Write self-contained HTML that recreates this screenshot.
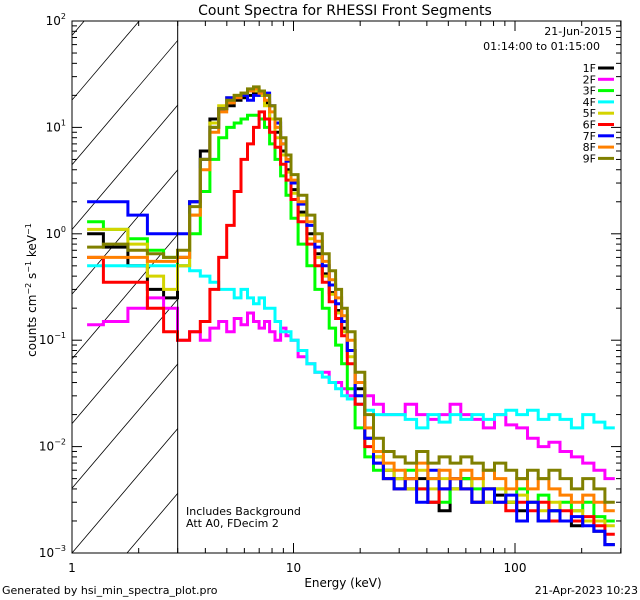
<!DOCTYPE html>
<html><head><meta charset="utf-8"><style>
body{margin:0;background:#fff;}
svg{display:block;font-family:"DejaVu Sans","Liberation Sans",sans-serif;}
</style></head><body>
<svg id="chart" width="640" height="600" xmlns="http://www.w3.org/2000/svg">
<rect width="640" height="600" fill="#fff"/>
<text x="345" y="15" font-size="14" text-anchor="middle">Count Spectra for RHESSI Front Segments</text>
<text transform="translate(36,290) rotate(-90)" font-size="12" text-anchor="middle">counts cm<tspan font-size="8" dy="-5">−2</tspan><tspan dy="5"> s</tspan><tspan font-size="8" dy="-5">−1</tspan><tspan dy="5"> keV</tspan><tspan font-size="8" dy="-5">−1</tspan></text>
<text x="343" y="587" font-size="12" text-anchor="middle">Energy (keV)</text>
<text x="2" y="594" font-size="11">Generated by hsi_min_spectra_plot.pro</text>
<text x="638" y="594" font-size="11" text-anchor="end">21-Apr-2023 10:23</text>
<text x="612" y="35" font-size="11" text-anchor="end">21-Jun-2015</text>
<text x="600" y="50" font-size="11" text-anchor="end">01:14:00 to 01:15:00</text>
<text x="186" y="515" font-size="11">Includes Background</text>
<text x="186" y="527" font-size="11">Att A0, FDecim 2</text>
<g id="hatch"></g>
<g id="series"></g>
<g id="axes"></g>
<g id="legend"></g>
</svg>
<script>
const energies=[1.2,1.6,2.0,2.4,2.8,3.2,3.6,4.0,4.4,4.8,5.2,5.6,6.0,6.4,6.8,7.2,7.6,8.0,8.5,9,9.5,10,11,12,13,14,15,16,17,18,20,22,24,27,30,34,38,43,48,54,60,68,76,86,96,108,120,135,150,170,190,215,240,270,295];
const labels=["1F","2F","3F","4F","5F","6F","7F","8F","9F"];
const colors=["#000000","#ff00ff","#00ff00","#00ffff","#d4d400","#ff0000","#0000ff","#ff8000","#808000"];
const s1=[1.0,0.75,0.5,0.3,0.25, 0.6,2,6,12,15,16,18,19,20,21,20,17, 12,9,6,4, 2.6,1.6,1.0,0.65,0.42,0.28,0.19,0.13, 0.08,0.035,0.012,0.008,0.006, 0.005,0.004,0.005,0.003,0.0025,0.004, 0.005,0.003,0.004,0.0035,0.003,0.0025, 0.003,0.002,0.0025,0.002,0.0018,0.002,0.0016,0.0012];
const s2=[0.14,0.15,0.2,0.25,0.2, 0.1,0.12,0.1,0.13,0.15,0.12,0.16,0.14,0.18,0.15,0.13,0.15, 0.12,0.1,0.13,0.11, 0.1,0.07,0.06,0.05,0.05,0.04,0.04,0.035, 0.03,0.025,0.03,0.025,0.02, 0.02,0.025,0.02,0.018,0.02,0.025, 0.02,0.018,0.015,0.02,0.016,0.015, 0.012,0.01,0.011,0.009,0.008,0.007,0.006,0.005];
const s3=[1.3,1.1,0.9,0.7,0.6, 0.5,1.0,2.5,5,8,10,11,12,13,13,12,10, 7,5,3.5,2.3, 1.4,0.8,0.5,0.3,0.2,0.13,0.09,0.06, 0.035,0.015,0.008,0.006,0.005, 0.004,0.006,0.004,0.005,0.003,0.004, 0.005,0.004,0.003,0.004,0.003,0.004, 0.003,0.0035,0.0025,0.003,0.0025,0.003,0.0022,0.002];
const s4=[0.5,0.5,0.5,0.5,0.5, 0.5,0.45,0.4,0.35,0.3,0.3,0.25,0.3,0.25,0.22,0.25,0.2, 0.2,0.15,0.12,0.12, 0.1,0.08,0.06,0.05,0.045,0.04,0.035,0.03, 0.028,0.025,0.022,0.02,0.02, 0.02,0.018,0.015,0.02,0.017,0.02, 0.018,0.02,0.018,0.02,0.022,0.02, 0.022,0.018,0.02,0.018,0.015,0.02,0.017,0.015];
const s5=[1.1,1.1,0.8,0.4,0.3, 0.5,1.5,5,11,16,19,20,21,22,22,20,16, 12,8,5.5,3.8, 2.4,1.5,0.9,0.6,0.4,0.27,0.18,0.12, 0.07,0.03,0.012,0.008,0.006, 0.005,0.004,0.006,0.004,0.005,0.004, 0.004,0.005,0.003,0.004,0.003,0.0035, 0.003,0.0025,0.003,0.002,0.0025,0.002,0.002,0.0018];
const s6=[0.6,0.35,0.35,0.2,0.12, 0.1,0.12,0.15,0.3,0.6,1.2,2.5,5,7,10,14,12, 9,6.5,4.5,3.2, 2.1,1.3,0.8,0.5,0.35,0.23,0.16,0.11, 0.06,0.025,0.01,0.007,0.005, 0.004,0.005,0.004,0.003,0.004,0.005, 0.004,0.003,0.004,0.003,0.0025,0.003, 0.0025,0.003,0.002,0.0025,0.002,0.0022,0.0018,0.0015];
const s7=[2.0,2.0,1.5,1.0,1.0, 1.0,2,5,10,15,19,19,20,18,20,22,21, 16,11,7,4.8, 3,1.9,1.2,0.75,0.5,0.33,0.22,0.15, 0.08,0.03,0.012,0.007,0.005, 0.004,0.005,0.003,0.006,0.004,0.005, 0.004,0.003,0.004,0.003,0.0035,0.002, 0.003,0.002,0.0025,0.002,0.0022,0.0018,0.0016,0.0012];
const s8=[0.6,0.6,0.6,0.55,0.55, 0.6,1.5,4,9,14,17,19,21,22,23,21,18, 14,10,7,5, 3.2,2,1.3,0.85,0.55,0.37,0.25,0.17, 0.1,0.04,0.015,0.009,0.007, 0.006,0.005,0.007,0.005,0.006,0.005, 0.006,0.005,0.006,0.005,0.004,0.005, 0.004,0.005,0.004,0.0035,0.003,0.0035,0.003,0.0025];
const s9=[0.75,0.8,0.7,0.65,0.6, 0.7,1.8,5,10,15,18,20,21,23,24,22,20, 16,12,8,5.5, 3.6,2.3,1.5,1.0,0.65,0.45,0.3,0.2, 0.12,0.05,0.02,0.012,0.009, 0.008,0.007,0.009,0.007,0.008,0.007, 0.008,0.007,0.006,0.007,0.006,0.005, 0.006,0.005,0.006,0.005,0.004,0.005,0.004,0.003];
const seriesList=[s1,s2,s3,s4,s5,s6,s7,s8,s9];
const xTicks=["1","10","100"];

const L=72,R=621,T=21,B=553;
const DEC_X=221.5, DEC_Y=(B-T)/5;
const NS="http://www.w3.org/2000/svg";
function xs(e){return L+Math.log10(e)*DEC_X;}
function ys(v){return T+(2-Math.log10(v))*DEC_Y;}
function mk(tag,attrs,parent){const el=document.createElementNS(NS,tag);for(const k in attrs)el.setAttribute(k,attrs[k]);parent.appendChild(el);return el;}
const svg=document.getElementById('chart');
const defs=mk('defs',{},svg);
const cp=mk('clipPath',{id:'plotclip'},defs);
mk('rect',{x:L,y:T,width:R-L,height:B-T},cp);
const cp2=mk('clipPath',{id:'hatchclip'},defs);
mk('rect',{x:L,y:T,width:xs(3)-L,height:B-T},cp2);

// hatch
const hatch=document.getElementById('hatch');
hatch.setAttribute('clip-path','url(#hatchclip)');
for(let k=-12;k<6;k++){
  const x0=L+k*55;
  const ln=mk('line',{x1:x0,y1:B,x2:x0+(B-T)*0.85,y2:T,stroke:'#000','stroke-width':0.8},hatch);
  
  
}
const hb=mk('line',{x1:xs(3),y1:T,x2:xs(3),y2:B,stroke:'#000','stroke-width':1},hatch.parentNode);



// edges
const edges=[1.17];
for(let i=0;i<energies.length-1;i++)edges.push(Math.sqrt(energies[i]*energies[i+1]));
edges.push(300);

const sg=document.getElementById('series');
sg.setAttribute('clip-path','url(#plotclip)');
seriesList.forEach((s,si)=>{
  let d='';const n=Math.min(s.length,energies.length);
  for(let i=0;i<n;i++){
    const y=ys(s[i]);
    d+=(i===0?'M':'L')+xs(edges[i]).toFixed(1)+','+y.toFixed(1)+'L'+xs(edges[i+1]).toFixed(1)+','+y.toFixed(1);
  }
  const p=mk('path',{d:d,fill:'none',stroke:colors[si],'stroke-width':3,'stroke-linejoin':'miter'},sg);
  
  
});

// axes
const ax=document.getElementById('axes');
const frame=mk('rect',{x:L,y:T,width:R-L,height:B-T,fill:'none',stroke:'#000','stroke-width':1},ax);


for(let dcd=0;dcd<3;dcd++){
  for(let m=1;m<10;m++){
    const e=Math.pow(10,dcd)*m; if(e>300)break;
    const x=xs(e),len=m===1?10:5;
    mk('line',{x1:x,y1:B,x2:x,y2:B-len,stroke:'#000'},ax);
    mk('line',{x1:x,y1:T,x2:x,y2:T+len,stroke:'#000'},ax);
  }
}
xTicks.forEach((t,i)=>{
  const tx=mk('text',{x:xs(Math.pow(10,i)),y:572,'font-size':12,'text-anchor':'middle'},ax);
  tx.textContent=t;
  
  
});
for(let p=-3;p<=2;p++){
  for(let m=1;m<10;m++){
    const v=Math.pow(10,p)*m; if(v>100)break;
    const y=ys(v),len=m===1?10:5;
    mk('line',{x1:L,y1:y,x2:L+len,y2:y,stroke:'#000'},ax);
    mk('line',{x1:R,y1:y,x2:R-len,y2:y,stroke:'#000'},ax);
  }
  const tx=mk('text',{x:L-6,y:ys(Math.pow(10,p))+4,'font-size':12,'text-anchor':'end'},ax);
  tx.innerHTML='10<tspan font-size="8" dy="-6">'+(p<0?'−'+(-p):p)+'</tspan>';
  
  
}

// legend
const lg=document.getElementById('legend');
labels.forEach((lab,i)=>{
  const y=68+i*11.3;
  const t=mk('text',{x:596,y:y+4,'font-size':11,'text-anchor':'end'},lg);
  t.textContent=lab;
  
  
  const l=mk('line',{x1:598,y1:y,x2:614,y2:y,stroke:colors[i],'stroke-width':3},lg);
  
  
});
</script>
</body></html>
